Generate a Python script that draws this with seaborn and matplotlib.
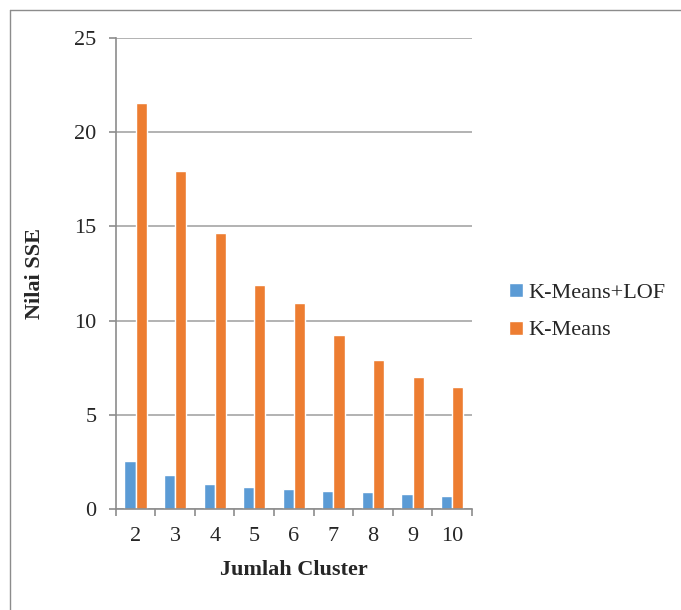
import matplotlib
matplotlib.use("Agg")
import matplotlib.pyplot as plt
import seaborn as sns
import pandas as pd
from matplotlib.lines import Line2D
from matplotlib.ticker import FixedLocator

clusters = ["2", "3", "4", "5", "6", "7", "8", "9", "10"]
sse_lof = [2.53, 1.83, 1.34, 1.18, 1.05, 0.93, 0.88, 0.77, 0.68]
sse_kmeans = [21.55, 17.94, 14.65, 11.89, 10.93, 9.24, 7.91, 7.0, 6.47]
series = ["K-Means+LOF", "K-Means"]
colors = ["#5B9BD5", "#ED7D31"]

df = pd.DataFrame({
    "Jumlah Cluster": clusters * 2,
    "Nilai SSE": sse_lof + sse_kmeans,
    "Metode": [series[0]] * len(clusters) + [series[1]] * len(clusters),
})

sns.set_style("white")
plt.rcParams["font.family"] = ["Liberation Serif", "DejaVu Serif"]

fig = plt.figure(figsize=(6.81, 6.10), dpi=100)
ax = fig.add_axes([0.170, 0.1656, 0.523, 0.7721])

sns.barplot(data=df, x="Jumlah Cluster", y="Nilai SSE", hue="Metode",
            order=clusters, hue_order=series, palette=colors,
            width=0.56, saturation=1, ax=ax, legend=True)

ax.set_ylim(0, 25)
ax.set_xlim(-0.5, len(clusters) - 0.5)
ax.set_yticks([0, 5, 10, 15, 20, 25])
ax.yaxis.grid(True, color="#A6A6A6", linewidth=1.2)
ax.set_axisbelow(True)
for s in ["top", "right"]:
    ax.spines[s].set_visible(False)
for s in ["left", "bottom"]:
    ax.spines[s].set_color("#8C8C8C")
    ax.spines[s].set_linewidth(1.2)

ax.tick_params(axis="y", which="major", length=5, color="#8C8C8C", width=1.2,
               labelsize=16, pad=9, left=True)
ax.tick_params(axis="x", which="major", length=0, labelsize=16, pad=13)
ax.xaxis.set_minor_locator(FixedLocator([i - 0.5 for i in range(len(clusters) + 1)]))
ax.tick_params(axis="x", which="minor", length=5, color="#8C8C8C", width=1.2, bottom=True)

ax.set_xlabel("Jumlah Cluster", fontsize=16, fontweight="bold", va="top")
ax.xaxis.set_label_coords(0.5, -0.108)
ax.set_ylabel("Nilai SSE", fontsize=16, fontweight="bold")
ax.yaxis.set_label_coords(-0.20, 0.5)

handles, labels = ax.get_legend_handles_labels()
ax.legend(handles, labels, loc="center left", bbox_to_anchor=(1.105, 0.419),
          frameon=False, fontsize=16, handlelength=0.6, handleheight=0.6,
          handletextpad=0.25, labelspacing=0.8, borderpad=0, borderaxespad=0)

# outer chart border (left and top visible)
fig.add_artist(Line2D([10 / 681, 10 / 681], [0, 1 - 10 / 610], transform=fig.transFigure,
                      color="#8C8C8C", linewidth=1))
fig.add_artist(Line2D([10 / 681, 1], [1 - 10 / 610, 1 - 10 / 610], transform=fig.transFigure,
                      color="#8C8C8C", linewidth=1))

fig.savefig("out.png", dpi=100)
